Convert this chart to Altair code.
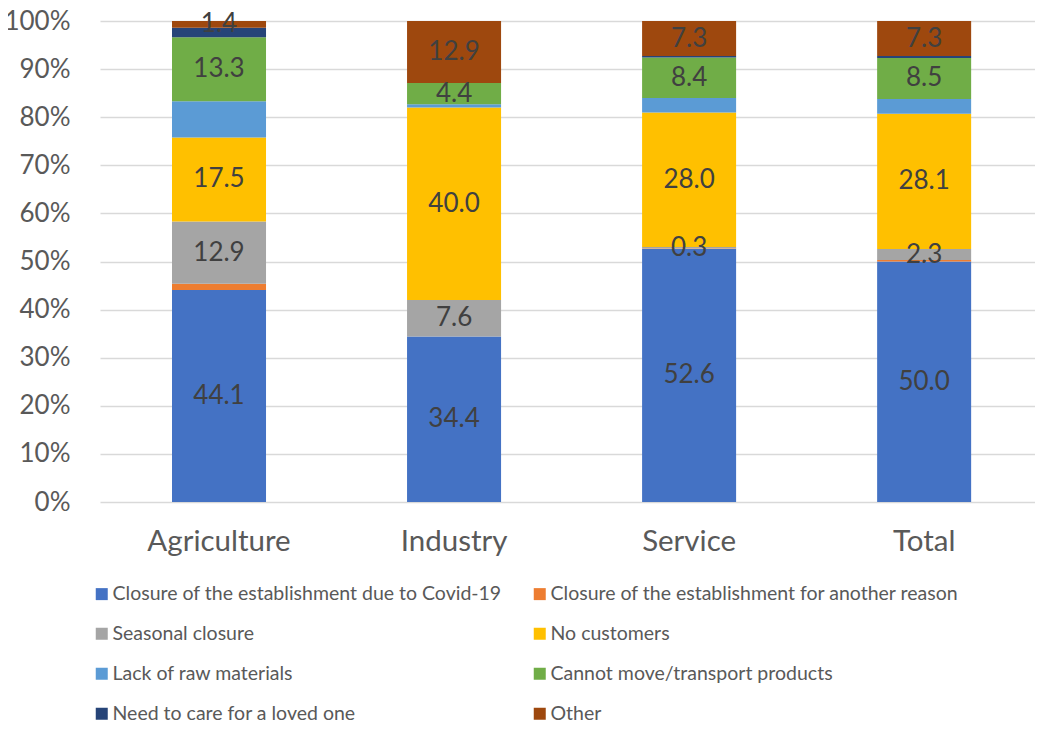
import altair as alt
import pandas as pd

categories = ["Agriculture", "Industry", "Service", "Total"]
series = [
    "Closure of the establishment due to Covid-19",
    "Closure of the establishment for another reason",
    "Seasonal closure",
    "No customers",
    "Lack of raw materials",
    "Cannot move/transport products",
    "Need to care for a loved one",
    "Other",
]
colors = ["#4472C4", "#ED7D31", "#A5A5A5", "#FFC000", "#5B9BD5", "#70AD47", "#264478", "#9E480E"]

covid = [44.1, 34.4, 52.6, 50.0]
another_reason = [1.3, 0.0, 0.1, 0.3]
seasonal = [12.9, 7.6, 0.3, 2.3]
no_customers = [17.5, 40.0, 28.0, 28.1]
raw_materials = [7.5, 0.7, 3.0, 3.1]
transport = [13.3, 4.4, 8.4, 8.5]
care = [2.0, 0.0, 0.3, 0.4]
other = [1.4, 12.9, 7.3, 7.3]

# series that carry data labels in the original
labeled = [1, 0, 1, 1, 0, 1, 0, 1]

all_values = [covid, another_reason, seasonal, no_customers, raw_materials, transport, care, other]
rows = []
for i, (s, vals) in enumerate(zip(series, all_values)):
    for c, v in zip(categories, vals):
        rows.append({"cat": c, "series": s, "idx": i, "value": v, "lab": labeled[i]})
df = pd.DataFrame(rows)

FONT = "Lato"

x_enc = alt.X(
    "cat:N",
    sort=categories,
    title=None,
    scale=alt.Scale(paddingInner=0.6, paddingOuter=0.289, align=0.53),
    axis=alt.Axis(labelAngle=0, labelFontSize=29.5, labelColor="#595959", labelFont=FONT,
                  ticks=False, domain=False, labelPadding=25),
)

bars = alt.Chart(df).mark_bar().encode(
    x=x_enc,
    y=alt.Y(
        "value:Q",
        stack="zero",
        title=None,
        scale=alt.Scale(domain=[0, 100], nice=False),
        axis=alt.Axis(values=list(range(0, 101, 10)), labelExpr="datum.value + '%'",
                      labelFontSize=26, labelColor="#595959", labelFont=FONT,
                      ticks=False, domain=False, grid=True, gridColor="#D9D9D9",
                      gridWidth=1.3, labelPadding=30),
    ),
    color=alt.Color(
        "series:N",
        sort=series,
        scale=alt.Scale(domain=series, range=colors),
        legend=alt.Legend(
            title=None, orient="none", legendX=-8, legendY=563, columns=2,
            direction="horizontal",
            symbolType="square", symbolSize=144, symbolStrokeWidth=0,
            labelFontSize=19.5, labelColor="#595959", labelFont=FONT,
            columnPadding=28, rowPadding=19, labelOffset=1, padding=0,
            labelLimit=600,
        ),
    ),
    order=alt.Order("idx:Q", sort="ascending"),
)

labels = (
    alt.Chart(df)
    .transform_stack(stack="value", as_=["y0", "y1"], groupby=["cat"],
                     sort=[alt.SortField("idx", order="ascending")])
    .transform_calculate(mid="(datum.y0 + datum.y1) / 2")
    .transform_filter("datum.lab == 1")
    .mark_text(fontSize=26, font=FONT, color="#404040", baseline="middle")
    .encode(
        x=alt.X("cat:N", sort=categories),
        y=alt.Y("mid:Q"),
        text=alt.Text("value:Q", format=".1f"),
    )
)

chart = (
    alt.layer(bars, labels)
    .properties(
        width=935, height=481,
        autosize=alt.AutoSizeParams(type="none"),
        padding={"left": 92, "top": 13, "right": 0, "bottom": 224},
    )
    .configure_view(stroke=None)
)

chart.save("out.html", embed_options={"renderer": "svg", "actions": False})
